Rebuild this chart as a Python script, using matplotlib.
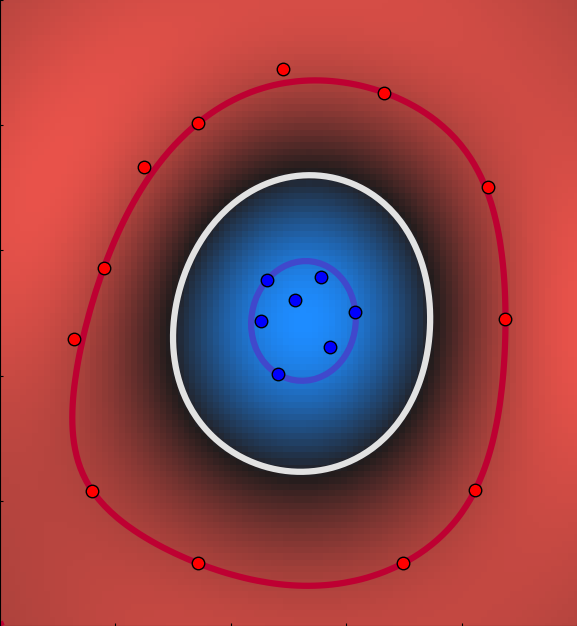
import numpy as np
import matplotlib.pyplot as plt
from matplotlib.colors import LinearSegmentedColormap

# outer class (+1) and inner class (-1)
red_x = [-0.05, 0.83, -0.78, -1.25, 1.73, -1.60, 1.88, -1.86, -1.70, 1.62, -0.78, 0.99]
red_y = [1.95, 1.76, 1.52, 1.17, 1.01, 0.36, -0.05, -0.21, -1.42, -1.41, -2.00, -2.00]
blue_x = [-0.19, 0.28, 0.06, -0.24, 0.58, 0.36, -0.09]
blue_y = [0.26, 0.29, 0.10, -0.06, 0.01, -0.27, -0.49]

X = np.column_stack([red_x + blue_x, red_y + blue_y])
y = np.array([1.0] * len(red_x) + [-1.0] * len(blue_x))

gamma = 0.4
C = 10.0
c0 = 3.0


def kernel(a, b):
    d = ((a[:, None, :] - b[None, :, :]) ** 2).sum(-1)
    return np.exp(-gamma * d) + c0


# rbf svm, dual coordinate descent (bias folded into kernel)
Q = (y[:, None] * y[None, :]) * kernel(X, X)
alpha = np.zeros(len(y))
for it in range(3000):
    for i in range(len(y)):
        g = Q[i] @ alpha - 1.0
        alpha[i] = np.clip(alpha[i] - g / Q[i, i], 0, C)

xx, yy = np.meshgrid(np.linspace(-2.5, 2.5, 100), np.linspace(-2.5, 2.5, 100))
grid = np.column_stack([xx.ravel(), yy.ravel()])
Z = (kernel(grid, X) @ (alpha * y)).reshape(xx.shape)

cmap = LinearSegmentedColormap.from_list('bkr', ['#1e8cff', '#221c1c', '#e8524a'])

fig = plt.figure(figsize=(5.77, 6.26), dpi=100)
ax = fig.add_axes([0, 0, 1, 1])
ax.pcolormesh(xx, yy, Z, cmap=cmap, shading='nearest')
ax.contour(xx, yy, Z, levels=[-1, 0, 1], colors=['#4048cc', '#e2e2e2', '#be0032'],
           linewidths=4.5)
ax.plot(red_x, red_y, 'o', color='red', mec='black', ms=9)
ax.plot(blue_x, blue_y, 'o', color='blue', mec='black', ms=9)
ax.set_xlim(-2.5, 2.5)
ax.set_ylim(-2.5, 2.5)
ax.set_xticks(np.linspace(-2.5, 2.5, 6))
ax.set_yticks(np.linspace(-2.5, 2.5, 6))
ax.set_xticklabels([])
ax.set_yticklabels([])
ax.tick_params(direction='in', length=2)
ax.spines['top'].set_visible(False)
ax.spines['right'].set_visible(False)
fig.savefig('out.png')
